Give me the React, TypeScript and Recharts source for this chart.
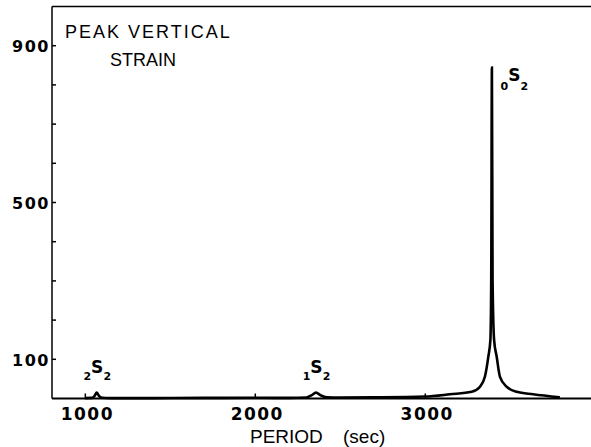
import React from 'react';
import { LineChart, Line, XAxis, YAxis, ReferenceLine, ReferenceDot } from 'recharts';

// Period (sec) and peak vertical strain
const periods = [998, 1040, 1055, 1067, 1080, 1098, 1150, 1400, 1700, 2000, 2200, 2300, 2330, 2357, 2385, 2420, 2500, 2700, 2998, 3145, 3273, 3322, 3351, 3371, 3383, 3388, 3392, 3396, 3405, 3420, 3439, 3479, 3538, 3634, 3792];
const strain = [1, 1.5, 7, 15, 7, 2, 1, 1, 1.5, 2, 1.5, 2.5, 8, 15, 8, 3, 2.5, 3, 5, 10.7, 17, 30, 56, 107, 149, 300, 844, 300, 149, 107, 56, 30, 17, 10.7, 3];

// Normal modes labelled at their peaks (nS2)
const modeOrders = ['2', '1', '0'];
const modePeriods = [1067, 2357, 3392];
const modePeaks = [15, 15, 844];

const xTicks = [1000, 2000, 3000];
const yTicks = [100, 200, 300, 400, 500, 600, 700, 800, 900];
const yLabelled = [100, 500, 900];

const data = periods.map((p, i) => ({ period: p, strain: strain[i] }));

const boldFont = '"DejaVu Sans", sans-serif';
const thinFont = '"Liberation Sans", Arial, sans-serif';

const XTick = (props: any) => {
  const { x, y, payload } = props;
  return (
    <g>
      <line x1={x} y1={y} x2={x} y2={y - 5} stroke="#000" strokeWidth={1.5} />
      <text x={x + 2} y={y + 21} textAnchor="middle" fontFamily={boldFont} fontWeight="bold" fontSize={17} letterSpacing={1.5} fill="#000">
        {payload.value}
      </text>
    </g>
  );
};

const YTick = (props: any) => {
  const { x, y, payload } = props;
  const show = yLabelled.includes(payload.value);
  return (
    <g>
      <line x1={x} y1={y} x2={x + 4} y2={y} stroke="#000" strokeWidth={1.5} />
      {show && (
        <text x={x - 2} y={y + 6.5} textAnchor="end" fontFamily={boldFont} fontWeight="bold" fontSize={16} letterSpacing={1.5} fill="#000">
          {payload.value}
        </text>
      )}
    </g>
  );
};

const PeakLabel = (props: any) => {
  const { cx, cy, order, big } = props;
  if (cx == null || cy == null) return null;
  const sx = big ? cx + 22.4 : cx + 0.5;
  const sy = big ? cy + 13.7 : cy - 19.4;
  const dsub = big ? 8.3 : 7;
  return (
    <g>
      <text x={sx} y={sy} textAnchor="middle" fontFamily={boldFont} fontWeight="bold" fontSize={17} fill="#000">S</text>
      <text x={sx - 10} y={sy + dsub} textAnchor="middle" fontFamily={boldFont} fontWeight="bold" fontSize={11} fill="#000">{order}</text>
      <text x={sx + 10} y={sy + dsub} textAnchor="middle" fontFamily={boldFont} fontWeight="bold" fontSize={11} fill="#000">2</text>
    </g>
  );
};

export default function App() {
  return (
    <div style={{ position: 'absolute', left: 0, top: 0, width: 591, height: 447, background: '#fff' }}>
      <LineChart width={591} height={447} data={data} margin={{ top: 6.5, right: 0, left: 0, bottom: 0 }}>
        <XAxis
          dataKey="period"
          type="number"
          domain={[804, 3975]}
          allowDataOverflow
          ticks={xTicks}
          interval={0}
          height={48.5}
          tickSize={0}
          tickMargin={0}
          tickLine={false}
          axisLine={{ stroke: '#000', strokeWidth: 2.2 }}
          tick={<XTick />}
        />
        <YAxis
          type="number"
          domain={[0, 1000]}
          ticks={yTicks}
          interval={0}
          width={52}
          tickSize={0}
          tickMargin={0}
          tickLine={false}
          axisLine={{ stroke: '#000', strokeWidth: 1.5 }}
          tick={<YTick />}
        />
        <ReferenceLine y={1000} stroke="#000" strokeWidth={1.5} />
        <Line
          dataKey="strain"
          type="monotoneX"
          stroke="#000"
          strokeWidth={2.6}
          dot={false}
          isAnimationActive={false}
        />
        {modePeriods.map((p, i) => (
          <ReferenceDot
            key={i}
            x={p}
            y={modePeaks[i]}
            r={1}
            isFront
            shape={(sp: any) => <PeakLabel cx={sp.cx} cy={sp.cy} order={modeOrders[i]} big={modePeaks[i] > 100} />}
          />
        ))}
      </LineChart>
      <svg width={591} height={447} style={{ position: 'absolute', left: 0, top: 0, pointerEvents: 'none' }}>
        <text x={65} y={38} fontFamily={thinFont} fontSize={18} letterSpacing={2} fill="#000">PEAK VERTICAL</text>
        <text x={110} y={66} fontFamily={thinFont} fontSize={18} fill="#000">STRAIN</text>
        <text x={250} y={443} fontFamily={thinFont} fontSize={19} fill="#000">PERIOD</text>
        <text x={343} y={443} fontFamily={thinFont} fontSize={19} fill="#000">(sec)</text>
      </svg>
    </div>
  );
}
